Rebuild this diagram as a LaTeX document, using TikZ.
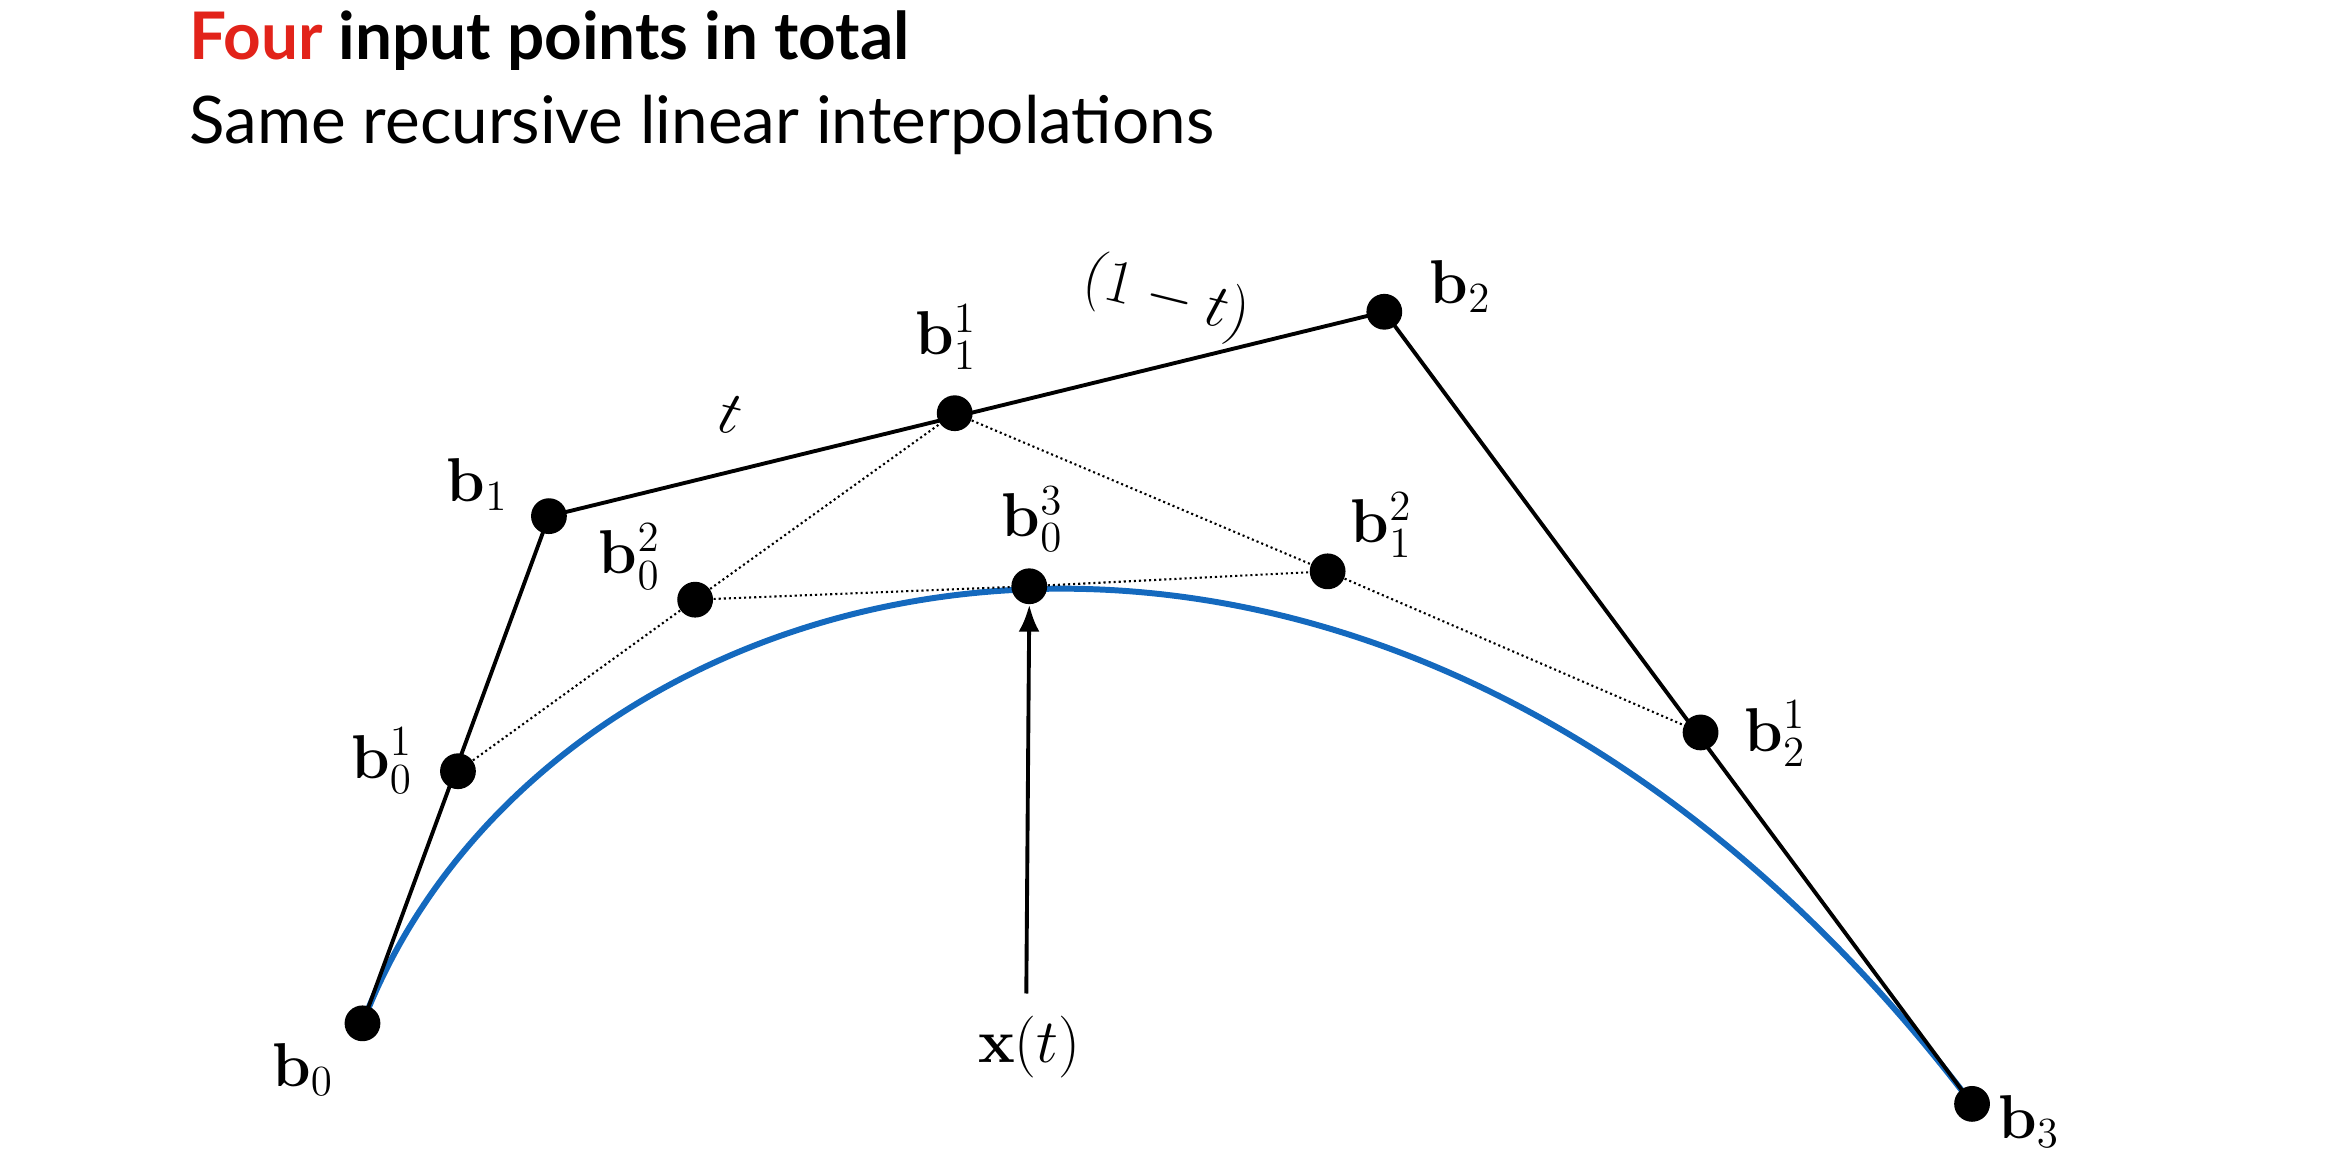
\documentclass[tikz,border=0pt]{standalone}
\usepackage[no-math]{fontspec}
\setsansfont{Lato}
\usepackage{amsmath}
\usetikzlibrary{arrows.meta}
\begin{document}
\begin{tikzpicture}[x=0.5pt,y=-0.5pt,
  pt/.style={circle,fill=black,inner sep=0pt,minimum size=12pt},
  lab/.style={font=\fontsize{21}{24}\selectfont,inner sep=1pt},
  ctrl/.style={line width=1.3pt},
  dot/.style={densely dotted,line width=0.7pt}]
\useasboundingbox (0,0) rectangle (1568,778);
\definecolor{curveblue}{RGB}{20,105,190}
\definecolor{titlered}{RGB}{226,35,26}
\node[anchor=base west,font=\sffamily\bfseries\fontsize{22}{26}\selectfont] (t1) at (120,40) {\textcolor{titlered}{Four} input points in total};
\node[anchor=base west,font=\sffamily\fontsize{22}{26}\selectfont] (t2) at (120,96) {Same recursive linear interpolations};
\coordinate (P0) at (243,686);
\coordinate (P1) at (368,346);
\coordinate (P2) at (928,209);
\coordinate (P3) at (1322,740);
\coordinate (C1) at (368,358);
\coordinate (C2) at (928,221);
\draw[curveblue,line width=2pt] (P0) .. controls (C1) and (C2) .. (P3);
\draw[ctrl] (P0) -- (P1) -- (P2) -- (P3);
\node[pt] (b0) at (P0) {};
\node[pt] (b1) at (P1) {};
\node[pt] (b2) at (P2) {};
\node[pt] (b3) at (P3) {};
\node[pt] (b01) at (307,517) {};
\node[pt] (b11) at (640,277) {};
\node[pt] (b21) at (1140,491) {};
\node[pt] (b02) at (466,402) {};
\node[pt] (b12) at (890,383) {};
\node[pt] (b03) at (690,393) {};
\draw[dot] (b01) -- (b02) -- (b11) -- (b12) -- (b21);
\draw[dot] (b02) -- (b03) -- (b12);
\node[lab] (l0) at (203,717) {$\mathbf{b}_0$};
\node[lab] (l1) at (320,325) {$\mathbf{b}_1$};
\node[lab] (l2) at (979,192) {$\mathbf{b}_2$};
\node[lab] (l3) at (1360,752) {$\mathbf{b}_3$};
\node[lab] (l01) at (256,510) {$\mathbf{b}_0^1$};
\node[lab] (l02) at (422,373) {$\mathbf{b}_0^2$};
\node[lab] (l11) at (634,226) {$\mathbf{b}_1^1$};
\node[lab] (l03) at (692,348) {$\mathbf{b}_0^3$};
\node[lab] (l12) at (926,352) {$\mathbf{b}_1^2$};
\node[lab] (l21) at (1190,492) {$\mathbf{b}_2^1$};
\node[lab] (lx) at (690,702) {$\mathbf{x}(t)$};
\node[lab,rotate=-14] (lt) at (490,278) {$t$};
\node[lab,rotate=-14] (l1t) at (782,200) {$(1-t)$};
\coordinate (xs) at (688,666);
\draw[line width=1.3pt,-{Latex[length=9pt,width=7pt]}] (xs) -- (b03.south);
\end{tikzpicture}
\end{document}
